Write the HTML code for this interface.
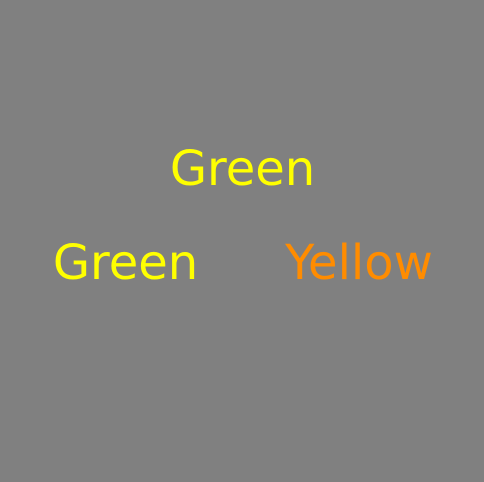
<!DOCTYPE html>
<html><head><meta charset="utf-8"><style>
html,body{margin:0;padding:0;background:#808080;}
svg{display:block;}
text{font-family:"DejaVu Sans","Liberation Sans",sans-serif;font-size:48px;}
</style></head><body>
<svg width="484" height="482" viewBox="0 0 484 482">
<rect x="0" y="0" width="484" height="482" fill="#808080"/>
<text x="242.5" y="185" text-anchor="middle" fill="#ffff00">Green</text>
<text x="125.5" y="279" text-anchor="middle" fill="#ffff00">Green</text>
<text x="359" y="279" text-anchor="middle" fill="#ff8c00">Yellow</text>
</svg>
</body></html>
